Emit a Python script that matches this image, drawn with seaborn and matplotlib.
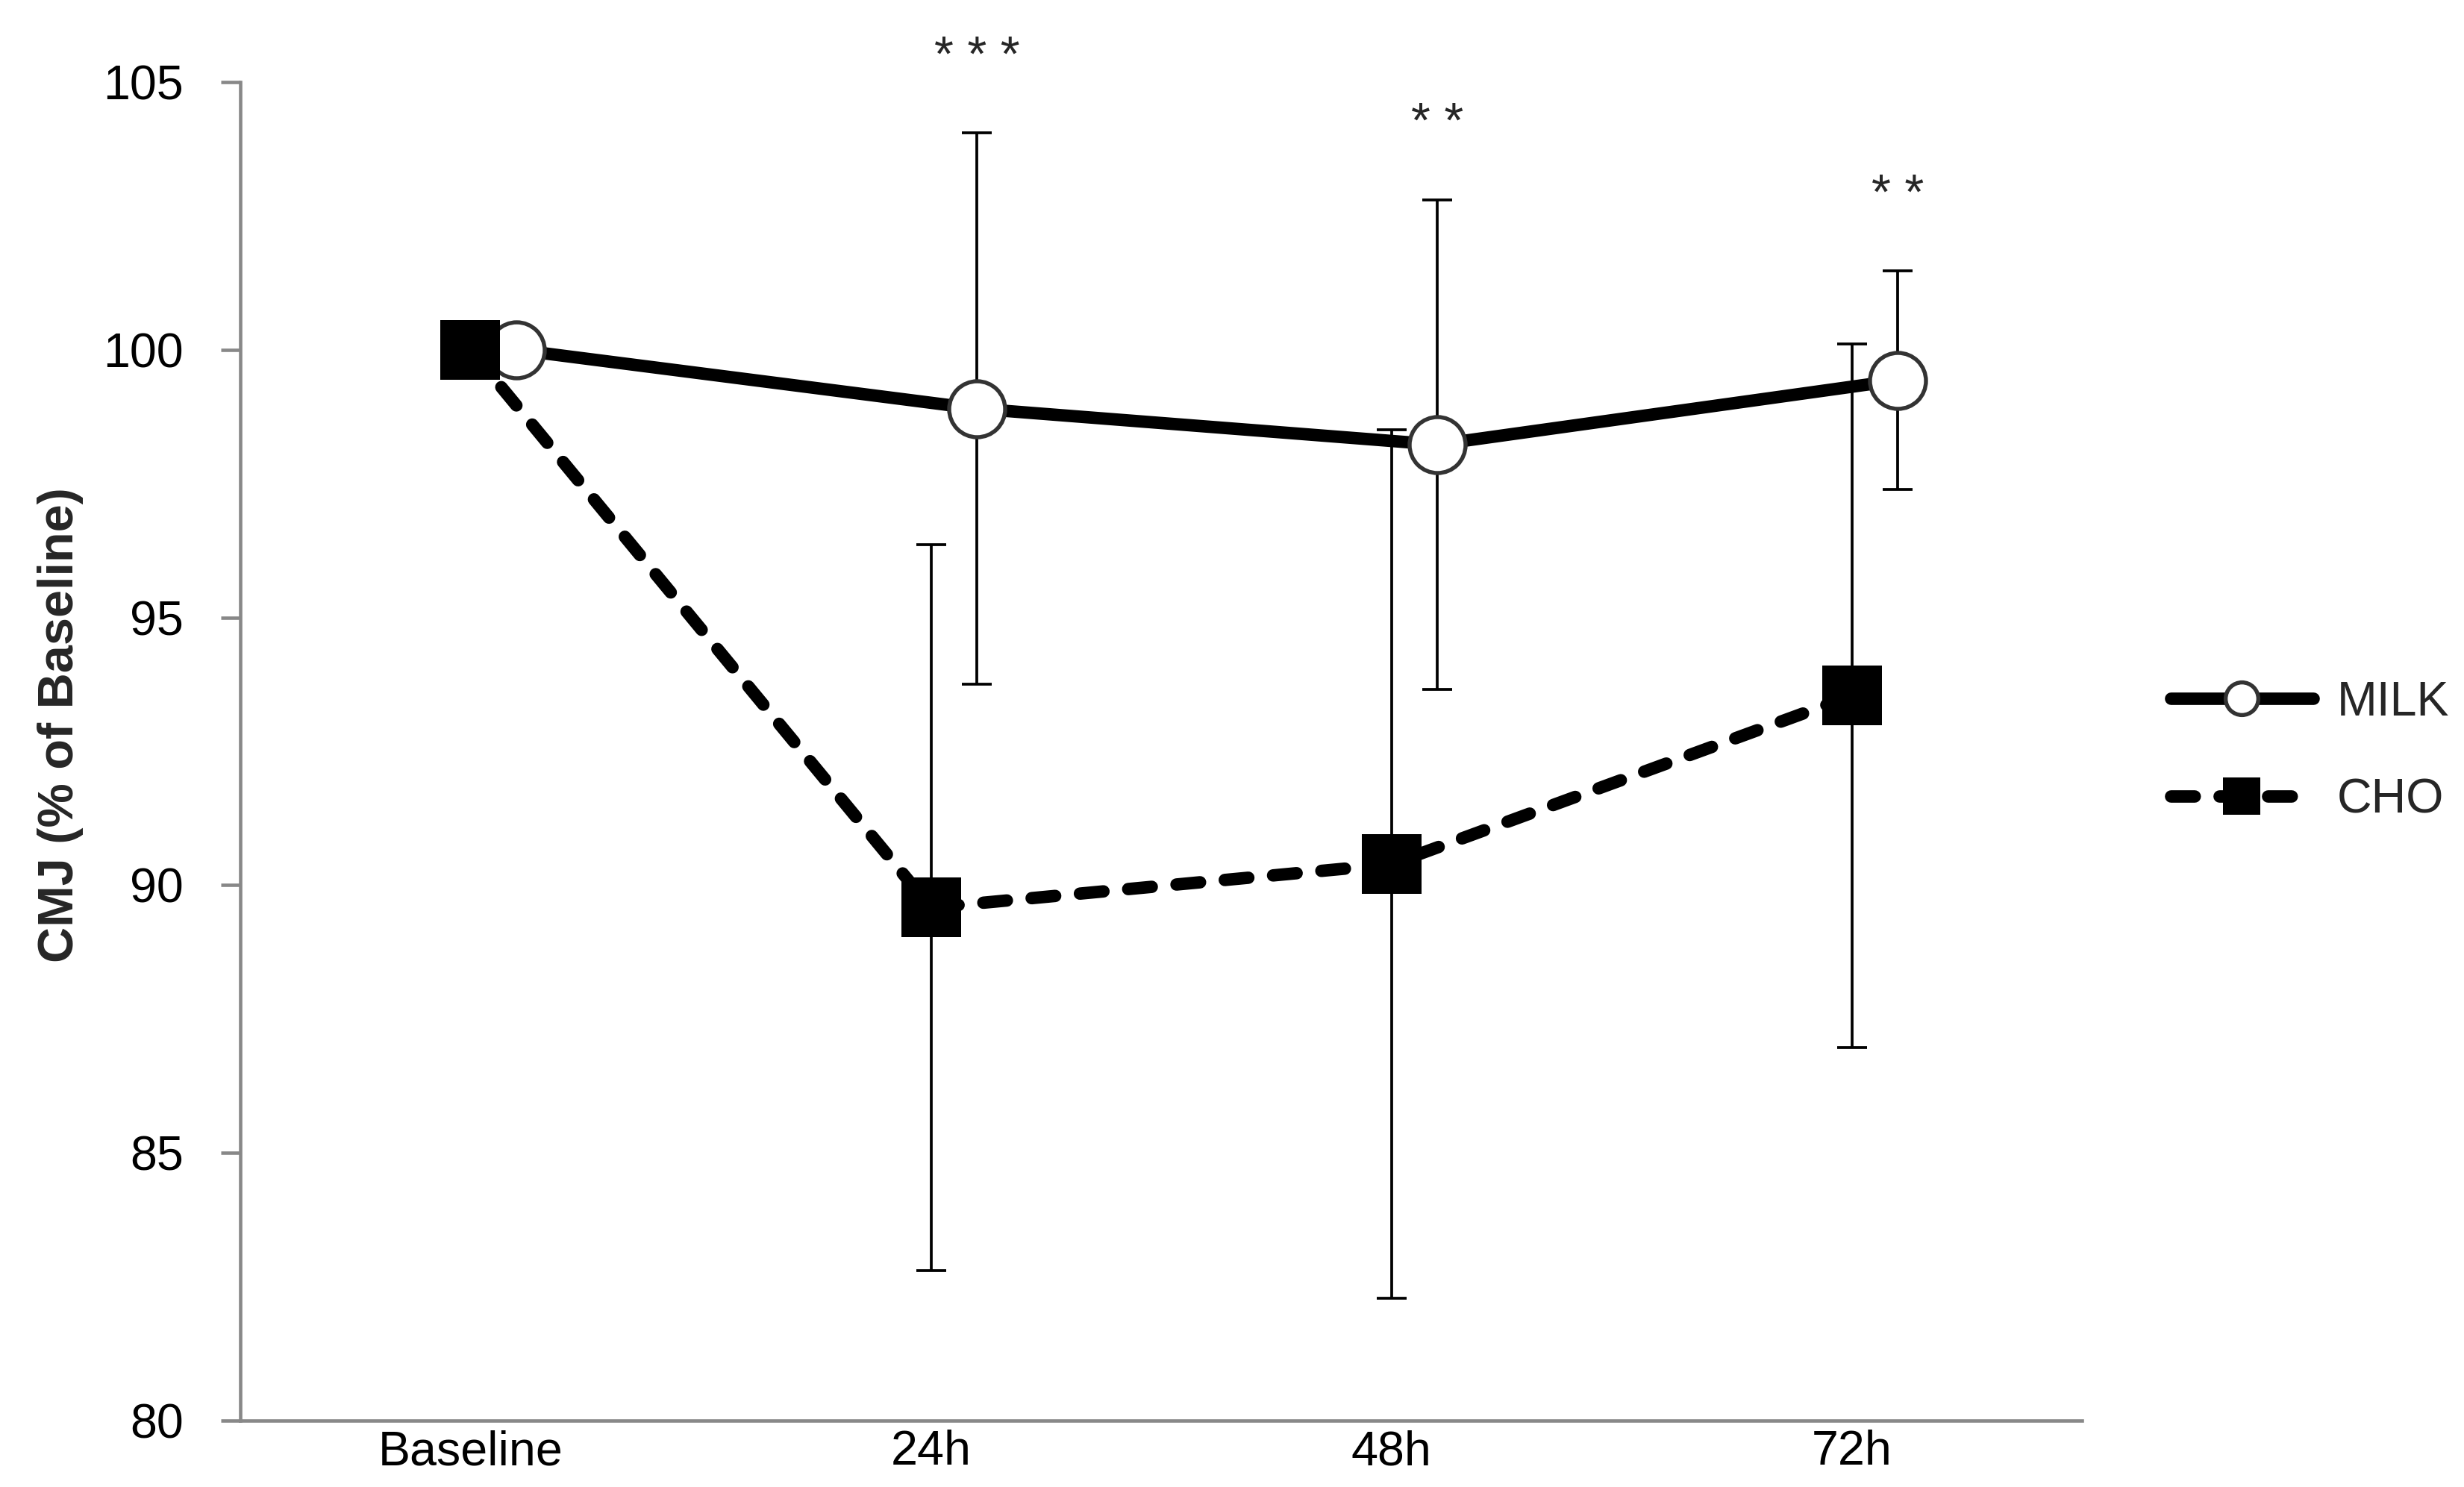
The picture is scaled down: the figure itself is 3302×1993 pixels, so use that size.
import matplotlib
matplotlib.use('Agg')
import matplotlib.pyplot as plt
import seaborn as sns
import pandas as pd

# CMJ (% of baseline), mean and SD per time point
timepoints = ['Baseline', '24h', '48h', '72h']
milk_mean = [100.0, 98.90, 98.23, 99.43]
milk_sd = [0.0, 5.15, 4.57, 2.04]
cho_mean = [100.0, 89.58, 90.39, 93.54]
cho_sd = [0.0, 6.78, 8.11, 6.57]
sig_labels = ['', '* * *', '* *', '* *']

sns.set_theme(style='white')
plt.rcParams['font.family'] = ['Liberation Sans', 'DejaVu Sans']

fig, ax = plt.subplots(figsize=(3302 / 300, 1993 / 300), dpi=300)
fig.subplots_adjust(left=0.0975, right=0.845, bottom=0.0447, top=0.9448)

cat = list(range(len(timepoints)))
milk_x = [c + 0.1 for c in cat]  # milk series sits a bit right of the category

milk = pd.DataFrame({'x': milk_x, 'cmj': milk_mean})
cho = pd.DataFrame({'x': cat, 'cmj': cho_mean})

# error bars first, markers cover them
ax.errorbar(milk_x[1:], milk_mean[1:], yerr=milk_sd[1:], fmt='none', ecolor='black',
            elinewidth=0.9, capsize=4.9, capthick=0.9, zorder=2)
ax.errorbar(cat[1:], cho_mean[1:], yerr=cho_sd[1:], fmt='none', ecolor='black',
            elinewidth=0.9, capsize=4.9, capthick=0.9, zorder=2)

sns.lineplot(data=milk, x='x', y='cmj', color='black', linewidth=4, marker='o',
             markersize=18, markerfacecolor='white', markeredgecolor='#333333',
             markeredgewidth=1.3, label='MILK', errorbar=None, zorder=4, ax=ax)
sns.lineplot(data=cho, x='x', y='cmj', color='black', linewidth=4,
             linestyle=(0, (1.9, 2.0)), dash_capstyle='round', marker='s',
             markersize=19, markeredgewidth=0, label='CHO', errorbar=None,
             zorder=5, ax=ax)

# significance stars above the milk error bars
for i, s in enumerate(sig_labels):
    if s:
        ax.text(milk_x[i], milk_mean[i] + milk_sd[i] + 1.4, s, ha='center', va='center',
                fontsize=16, clip_on=False)

ax.set_xlim(-0.5, 3.5)
ax.set_ylim(80, 105)
ax.set_yticks([80, 85, 90, 95, 100, 105])
ax.set_xticks(cat)
ax.set_xticklabels(timepoints)
ax.set_xlabel('')
ax.set_ylabel('CMJ (% of Baseline)', fontsize=16, fontweight='bold')
ax.yaxis.set_label_coords(-0.085, 0.52)

sns.despine(ax=ax)
for side in ['left', 'bottom']:
    ax.spines[side].set_color('#888888')
    ax.spines[side].set_linewidth(1.1)
ax.tick_params(axis='y', which='major', left=True, length=6.2, width=1.1, color='#888888',
               labelsize=15.5, pad=12, labelcolor='black')
ax.tick_params(axis='x', which='major', bottom=False, length=0, labelsize=15.5, pad=3,
               labelcolor='black')
ax.grid(False)

h, l = ax.get_legend_handles_labels()
leg = ax.legend(h, l, loc='center left', bbox_to_anchor=(0.881, 0.4945),
                bbox_transform=fig.transFigure, frameon=False, fontsize=15.5,
                handlelength=2.95, handletextpad=0.5, labelspacing=1.1,
                borderpad=0, borderaxespad=0)
for line, ms in zip(leg.get_lines(), [10.5, 12]):
    line.set_markersize(ms)

plt.savefig('out.png', dpi=300)
